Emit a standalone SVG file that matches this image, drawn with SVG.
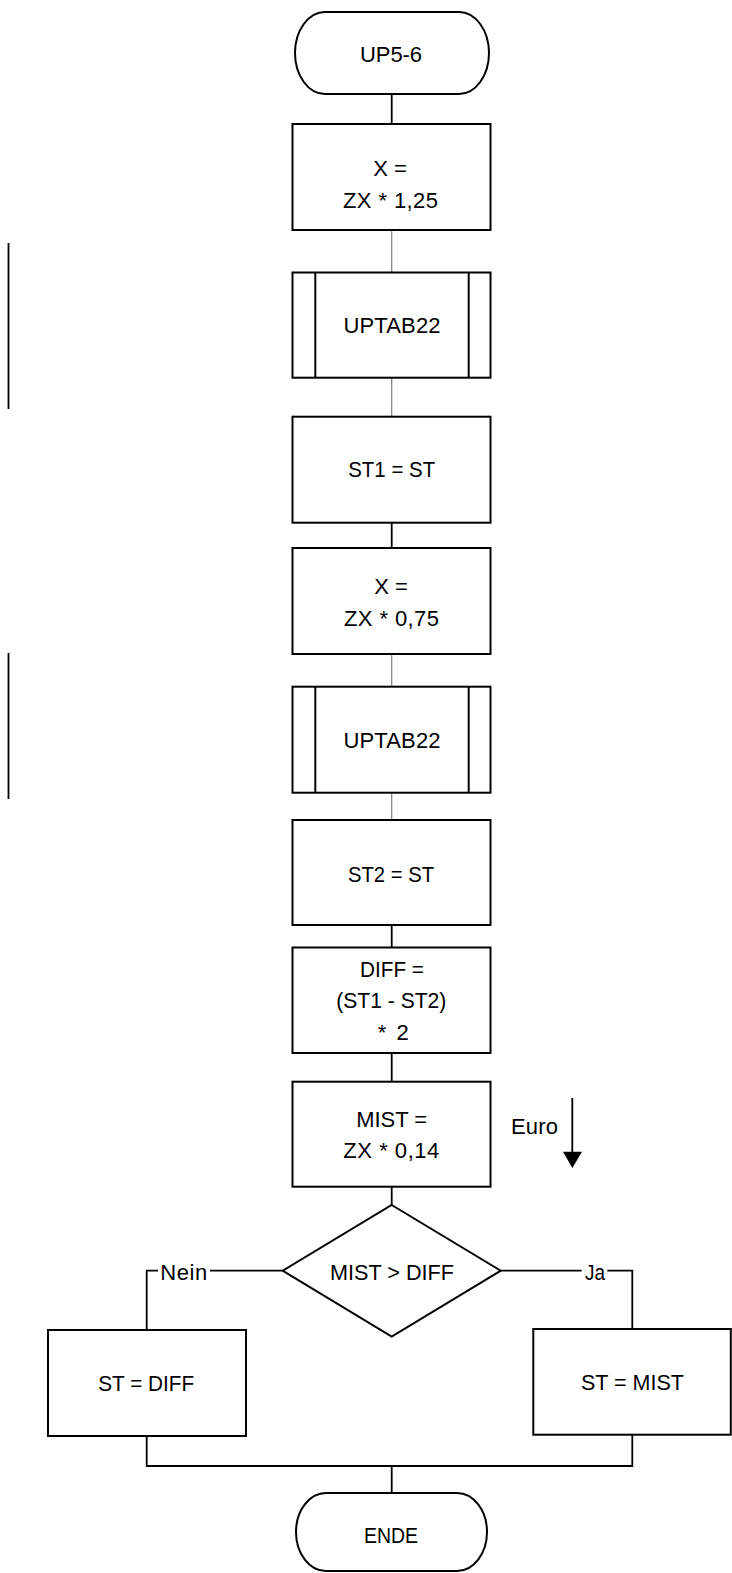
<svg xmlns="http://www.w3.org/2000/svg" width="732" height="1573" viewBox="0 0 732 1573">
<style>
.s{fill:#fff;stroke:#000;stroke-width:2}
.l{fill:none;stroke:#000;stroke-width:1.8}
.g{fill:none;stroke:#7f7f7f;stroke-width:1.2}
text{font-family:"Liberation Sans",Arial,sans-serif;font-size:22px;fill:#000;text-anchor:middle}
</style>
<rect width="732" height="1573" fill="#fff"/>
<g id="connectors">
<line class="l" x1="391.7" y1="94" x2="391.7" y2="124"/>
<line class="g" x1="391.7" y1="230" x2="391.7" y2="272.5"/>
<line class="g" x1="391.7" y1="377.7" x2="391.7" y2="416.7"/>
<line class="l" x1="391.7" y1="522.7" x2="391.7" y2="548"/>
<line class="g" x1="391.7" y1="654" x2="391.7" y2="686.7"/>
<line class="g" x1="391.7" y1="792.7" x2="391.7" y2="820"/>
<line class="l" x1="391.7" y1="925" x2="391.7" y2="947.5"/>
<line class="l" x1="391.7" y1="1053" x2="391.7" y2="1081.7"/>
<line class="l" x1="391.7" y1="1186.7" x2="391.7" y2="1205"/>
<polyline class="l" points="282.7,1270.7 210,1270.7"/>
<polyline class="l" points="158,1270.7 146.7,1270.7 146.7,1330"/>
<polyline class="l" points="500.7,1270.7 581.7,1270.7"/>
<polyline class="l" points="607.3,1270.7 632.3,1270.7 632.3,1329"/>
<polyline class="l" points="146.7,1436 146.7,1466 632.3,1466 632.3,1434.7"/>
<line class="l" x1="391.7" y1="1466" x2="391.7" y2="1493"/>
<text x="183.7" y="1280" textLength="47" lengthAdjust="spacing">Nein</text>
<text x="595" y="1280" textLength="20" lengthAdjust="spacingAndGlyphs">Ja</text>
</g>
<g id="sidebars">
<line class="l" x1="8.5" y1="243" x2="8.5" y2="409"/>
<line class="l" x1="8.5" y1="653" x2="8.5" y2="799"/>
</g>
<g id="start">
<rect class="s" x="295" y="12" width="194" height="82" rx="30" ry="41"/>
<text x="391" y="62" textLength="62" lengthAdjust="spacing">UP5-6</text>
</g>
<g id="box1">
<rect class="s" x="292.5" y="124" width="198" height="106"/>
<text x="390" y="176">X =</text>
<text x="390.5" y="208" textLength="95" lengthAdjust="spacing">ZX * 1,25</text>
</g>
<g id="uptab1">
<rect class="s" x="292.5" y="272.5" width="198" height="105.2"/>
<line class="s" x1="315.3" y1="272.5" x2="315.3" y2="377.7"/>
<line class="s" x1="468.7" y1="272.5" x2="468.7" y2="377.7"/>
<text x="392" y="333" textLength="97" lengthAdjust="spacing">UPTAB22</text>
</g>
<g id="st1">
<rect class="s" x="292.5" y="416.7" width="198" height="106"/>
<text x="391.7" y="477" textLength="87" lengthAdjust="spacingAndGlyphs">ST1 = ST</text>
</g>
<g id="box4">
<rect class="s" x="292.5" y="548" width="198" height="106"/>
<text x="391" y="594">X =</text>
<text x="391.5" y="626" textLength="95" lengthAdjust="spacing">ZX * 0,75</text>
</g>
<g id="uptab2">
<rect class="s" x="292.5" y="686.7" width="198" height="106"/>
<line class="s" x1="315.3" y1="686.7" x2="315.3" y2="792.7"/>
<line class="s" x1="468.7" y1="686.7" x2="468.7" y2="792.7"/>
<text x="392" y="748" textLength="97" lengthAdjust="spacing">UPTAB22</text>
</g>
<g id="st2">
<rect class="s" x="292.5" y="820" width="198" height="105"/>
<text x="391" y="882" textLength="86" lengthAdjust="spacingAndGlyphs">ST2 = ST</text>
</g>
<g id="diff">
<rect class="s" x="292.5" y="947.5" width="198" height="105.5"/>
<text x="392" y="977" textLength="64" lengthAdjust="spacingAndGlyphs">DIFF =</text>
<text x="391.3" y="1008" textLength="110" lengthAdjust="spacingAndGlyphs">(ST1 - ST2)</text>
<text x="393.3" y="1040" textLength="31" lengthAdjust="spacing">* 2</text>
</g>
<g id="mist">
<rect class="s" x="292.5" y="1081.7" width="198" height="105"/>
<text x="391.7" y="1127" textLength="71" lengthAdjust="spacingAndGlyphs">MIST =</text>
<text x="391.3" y="1158" textLength="96" lengthAdjust="spacing">ZX * 0,14</text>
</g>
<g id="euro">
<text x="534.5" y="1134" textLength="47" lengthAdjust="spacing">Euro</text>
<line class="l" x1="572.3" y1="1098" x2="572.3" y2="1153"/>
<polygon points="563,1151.7 582,1151.7 572.3,1168" fill="#000"/>
</g>
<g id="decision">
<polygon class="s" points="391.7,1205 500.7,1270.7 391.7,1336.7 282.7,1270.7"/>
<text x="392" y="1280" textLength="124" lengthAdjust="spacingAndGlyphs">MIST &gt; DIFF</text>
</g>
<g id="stdiff">
<rect class="s" x="48" y="1330" width="198" height="106"/>
<text x="146.2" y="1391" textLength="96" lengthAdjust="spacingAndGlyphs">ST = DIFF</text>
</g>
<g id="stmist">
<rect class="s" x="533.3" y="1329" width="197.5" height="105.7"/>
<text x="632.5" y="1390" textLength="103" lengthAdjust="spacingAndGlyphs">ST = MIST</text>
</g>
<g id="ende">
<rect class="s" x="296" y="1493" width="191" height="78" rx="30" ry="39"/>
<text x="391" y="1543" textLength="54" lengthAdjust="spacingAndGlyphs">ENDE</text>
</g>
</svg>
